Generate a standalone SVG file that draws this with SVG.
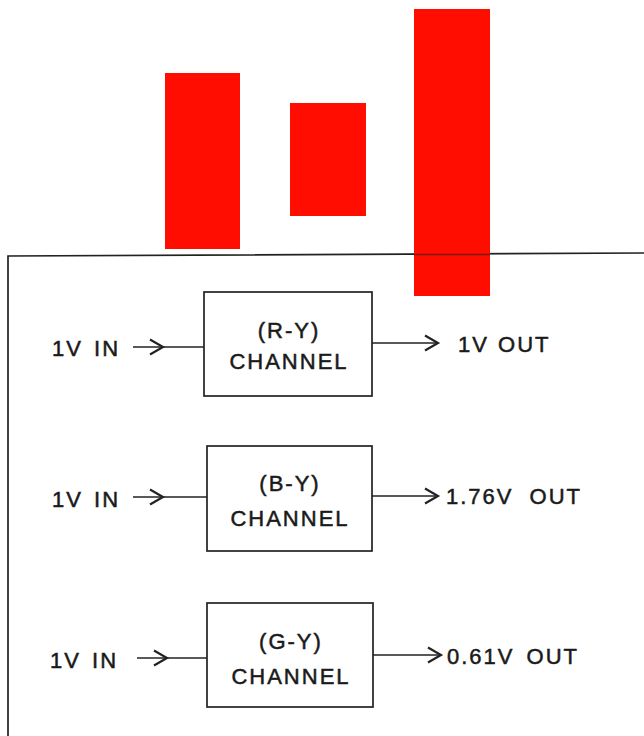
<svg xmlns="http://www.w3.org/2000/svg" width="644" height="736" viewBox="0 0 644 736">
<style>
.bar{fill:#ff0d00}
.box{fill:none;stroke:#222;stroke-width:1.7}
.ln{fill:none;stroke:#222;stroke-width:1.7}
.hd{fill:none;stroke:#222;stroke-width:2.2;stroke-linejoin:miter}
text{font-family:"Liberation Sans","DejaVu Sans",sans-serif;font-size:22px;fill:#1a1a1a;stroke:#1a1a1a;stroke-width:0.5;letter-spacing:2px}
.m{text-anchor:middle}
</style>
<rect width="644" height="736" fill="#fff"/>
<g id="bars">
<rect class="bar" x="165" y="73" width="75" height="176"/>
<rect class="bar" x="290" y="103" width="76" height="113"/>
</g>
<g id="frame">
<path class="ln" d="M8,736 V256 L644,253"/>
</g>
<rect id="bar3" class="bar" x="414" y="9" width="76" height="287"/>
<path class="ln" d="M414,254.5 H490" stroke-opacity="0.6"/>
<g id="ch-r">
<rect class="box" x="204" y="292" width="168" height="104"/>
<text class="m" x="289" y="338">(R-Y)</text>
<text class="m" x="289" y="369">CHANNEL</text>
</g>
<g id="ch-b">
<rect class="box" x="207" y="446" width="165" height="105"/>
<text class="m" x="290" y="491">(B-Y)</text>
<text class="m" x="290" y="526">CHANNEL</text>
</g>
<g id="ch-g">
<rect class="box" x="207" y="603" width="166" height="104"/>
<text class="m" x="291" y="649">(G-Y)</text>
<text class="m" x="291" y="684">CHANNEL</text>
</g>
<g id="labels">
<text x="52" y="356" word-spacing="3">1V IN</text>
<text x="458" y="352" word-spacing="1">1V OUT</text>
<text x="52" y="507" word-spacing="3">1V IN</text>
<text x="446" y="504" word-spacing="8">1.76V OUT</text>
<text x="50" y="668" word-spacing="3">1V IN</text>
<text x="447" y="664" word-spacing="4">0.61V OUT</text>
</g>
<g id="connectors">
<path class="ln" d="M133,347 H204"/>
<path class="hd" d="M150,339.5 L163,347 L150,354.5"/>
<path class="ln" d="M372,343 H437"/>
<path class="hd" d="M425,335.5 L438,343 L425,350.5"/>
<path class="ln" d="M133,497 H207"/>
<path class="hd" d="M150,489.5 L163,497 L150,504.5"/>
<path class="ln" d="M372,496 H437"/>
<path class="hd" d="M425,488.5 L438,496 L425,503.5"/>
<path class="ln" d="M137,658 H207"/>
<path class="hd" d="M154,650.5 L167,658 L154,665.5"/>
<path class="ln" d="M373,655 H440"/>
<path class="hd" d="M428,647.5 L441,655 L428,662.5"/>
</g>
</svg>
